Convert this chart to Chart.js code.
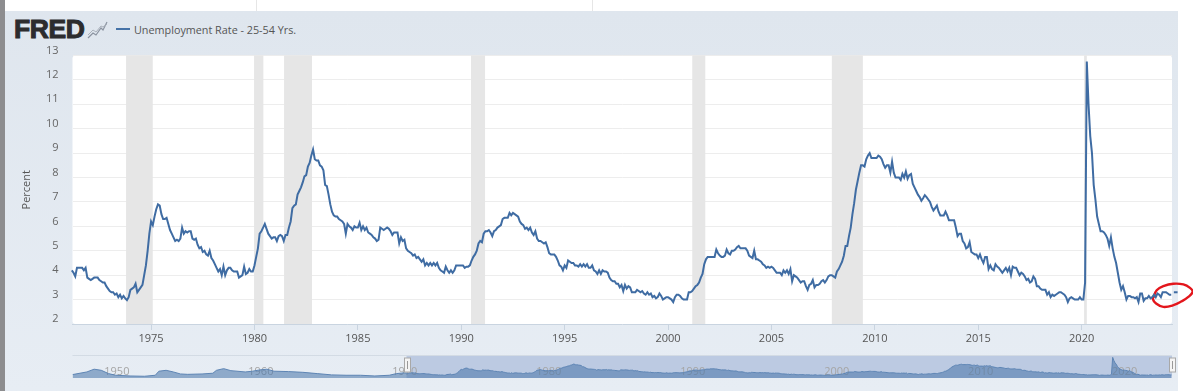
<!DOCTYPE html>
<html>
<head>
<meta charset="utf-8">
<title>Unemployment Rate - 25-54 Yrs.</title>
<script src="https://cdn.jsdelivr.net/npm/chart.js@4"></script>
<style>
    html, body { margin: 0; padding: 0; background: #fff; overflow: hidden; }
    #page { position: relative; width: 1193px; height: 391px; font-family: "Open Sans", sans-serif; }
    #edge { position: absolute; left: 0; top: 0; width: 5px; height: 391px; background: #8d8d8f; }
    #panel { position: absolute; left: 5px; top: 11px; width: 1173px; height: 380px; background: linear-gradient(#dfe6ee, #e7edf4); }
    .rule { position: absolute; top: 0; width: 1px; height: 11px; background: #e6e6e6; }
    #logo { position: absolute; left: 14px; top: 14px; font: bold 26.5px/30px "Liberation Sans", sans-serif; color: #2c2c2e; -webkit-text-stroke: 1px #2c2c2e; letter-spacing: -0.4px; }
    #icon { position: absolute; left: 87px; top: 20px; }
    #swatch { position: absolute; left: 116px; top: 28px; width: 14px; height: 2px; background: #4572a7; }
    #legend { position: absolute; left: 134px; top: 21px; font-size: 10.8px; line-height: 18px; color: #555; }
    canvas { position: absolute; left: 0; }
</style>
</head>
<body>
<div id="page">
    <div class="rule" style="left:256px"></div>
    <div class="rule" style="left:592px"></div>
    <div id="edge"></div>
    <div id="panel"></div>
    <div id="logo">FRED</div>
    <svg id="icon" width="21" height="20" viewBox="0 0 21 20">
        <path d="M1 18 L6 13 L9 15 L14 8 L16 10 L20 2" fill="none" stroke="#8b93a0" stroke-width="1.2"/>
        <path d="M1 15 L6 10 L9 12 L14 6 L16 7 L20 4" fill="none" stroke="#a9b0ba" stroke-width="1"/>
    </svg>
    <div id="swatch"></div>
    <div id="legend">Unemployment Rate - 25-54 Yrs.</div>
    <canvas id="main-chart" width="1193" height="391" style="top:0"></canvas>
    <canvas id="nav-chart" width="1193" height="46" style="top:345px"></canvas>
</div>
<script>
// monthly percent, starts March 1971
const firstYear = 1971;
const firstMonth = 2;
const rates = [
    4.2,4.1,3.95,4.3,4.3,4.3,4.3,4.2,4.3,3.9,
    3.85,3.8,3.85,3.9,3.9,3.9,3.8,3.75,3.7,3.7,3.55,3.45,
    3.35,3.3,3.3,3.2,3.25,3.1,3.2,3.05,3.15,3.05,2.98,3.1,
    3.4,3.45,3.5,3.65,3.3,3.4,3.5,3.6,4.0,4.4,5.0,5.7,
    6.2,6.05,6.4,6.7,6.9,6.85,6.5,6.3,6.3,6.35,6.1,5.85,
    5.7,5.55,5.4,5.45,5.4,5.5,5.95,5.7,5.8,5.75,5.8,5.8,
    5.5,5.45,5.5,5.25,5.1,5.15,4.95,5.0,4.85,4.8,5.0,4.7,
    4.6,4.45,4.3,4.15,4.25,4.0,4.35,4.0,4.2,4.3,4.3,4.2,
    4.15,4.15,4.15,3.9,3.95,4.0,4.35,4.05,4.1,4.25,4.15,4.15,
    4.4,4.75,5.1,5.7,5.8,5.95,6.1,5.9,5.7,5.6,5.5,5.55,
    5.55,5.4,5.6,5.65,5.6,5.4,5.65,5.65,5.95,6.2,6.75,6.85,
    6.9,7.3,7.45,7.6,7.8,8.05,8.1,8.45,8.6,8.9,9.15,8.75,
    8.7,8.7,8.5,8.45,8.3,7.7,7.65,7.3,6.9,6.6,6.45,6.4,
    6.4,6.3,6.25,6.2,6.1,5.7,6.1,6.0,5.95,5.85,6.0,5.95,
    5.95,6.15,5.85,6.0,5.85,5.95,5.75,5.7,5.65,5.55,5.5,5.4,
    5.45,5.95,5.9,5.85,5.9,5.95,5.9,5.8,5.65,5.75,5.75,5.75,
    5.3,5.55,5.4,5.45,5.1,5.0,4.95,4.9,4.8,4.85,4.7,4.75,
    4.65,4.55,4.65,4.4,4.5,4.4,4.5,4.4,4.5,4.4,4.5,4.3,
    4.2,4.15,4.1,4.35,4.2,4.1,4.2,4.1,4.2,4.4,4.4,4.4,
    4.4,4.4,4.3,4.35,4.35,4.4,4.6,4.75,4.85,5.0,5.3,5.4,
    5.35,5.7,5.8,5.8,5.85,5.75,5.6,5.8,5.85,5.95,6.0,6.05,
    6.3,6.35,6.35,6.35,6.55,6.45,6.55,6.5,6.45,6.4,6.2,6.1,
    6.05,5.9,5.95,5.85,5.95,5.75,5.65,5.8,5.5,5.4,5.4,5.35,
    5.3,5.35,5.15,4.9,4.85,4.85,4.85,4.75,4.6,4.4,4.35,4.2,
    4.4,4.3,4.6,4.55,4.5,4.5,4.4,4.4,4.35,4.45,4.35,4.45,
    4.35,4.45,4.3,4.3,4.4,4.2,4.15,4.05,4.2,4.05,4.2,4.15,
    4.15,4.1,3.9,3.8,3.75,3.75,3.65,3.65,3.5,3.6,3.35,3.6,
    3.45,3.55,3.5,3.3,3.3,3.3,3.4,3.35,3.3,3.35,3.25,3.2,
    3.3,3.2,3.25,3.1,3.15,3.05,3.1,3.25,3.15,3.0,3.05,3.1,
    3.1,3.05,3.0,2.9,3.1,3.2,3.2,3.15,3.05,3.0,3.0,3.0,
    3.3,3.3,3.35,3.45,3.55,3.6,3.7,3.9,4.05,4.45,4.65,4.75,
    4.75,4.75,4.75,4.75,5.05,4.9,4.8,4.75,4.75,4.8,5.05,4.9,
    4.85,5.0,5.0,5.05,5.15,5.2,5.1,5.1,5.1,5.1,5.0,4.8,
    4.75,4.7,5.0,4.65,4.65,4.6,4.55,4.45,4.4,4.3,4.35,4.3,
    4.35,4.3,4.2,4.1,4.1,4.1,4.0,4.2,4.1,4.2,4.05,4.25,
    3.75,4.0,3.95,3.9,3.8,3.7,3.75,3.75,3.55,3.4,3.6,3.65,
    3.8,3.5,3.6,3.6,3.65,3.75,3.8,3.7,3.8,3.95,4.0,4.0,
    3.95,3.9,4.15,4.25,4.4,4.55,4.8,5.2,5.2,5.6,5.95,6.5,
    6.95,7.5,7.85,8.2,8.5,8.5,8.45,8.75,8.9,9.0,8.8,8.8,
    8.8,8.8,8.9,8.85,8.75,8.55,8.4,8.5,8.5,8.2,8.65,8.2,
    8.0,8.0,8.0,7.9,8.15,8.0,8.25,7.95,8.1,8.15,7.75,7.6,
    7.45,7.3,7.2,7.05,7.15,7.28,7.2,7.1,7.0,6.8,6.65,6.75,
    6.85,6.6,6.45,6.45,6.45,6.6,6.45,6.25,6.25,6.25,6.25,5.95,
    5.6,5.7,5.7,5.4,5.3,5.1,5.15,5.35,4.95,4.9,4.85,4.85,
    4.7,4.85,4.65,4.5,4.75,4.75,4.25,4.4,4.25,4.2,4.45,4.35,
    4.3,4.2,4.1,4.2,4.3,4.15,4.3,4.0,4.35,4.3,4.3,4.15,
    4.0,4.1,4.05,3.95,3.8,3.85,3.7,3.75,3.95,3.85,3.55,3.55,
    3.45,3.4,3.4,3.4,3.2,3.3,3.1,3.2,3.15,3.2,3.25,3.3,
    3.3,3.25,3.2,3.1,2.9,3.05,3.1,3.05,3.0,3.0,3.0,3.1,
    3.0,3.0,3.7,12.75,11.0,9.7,9.0,7.7,7.1,6.4,6.1,5.8,
    5.8,5.75,5.65,5.5,5.2,5.55,5.1,4.75,4.5,4.1,3.7,3.4,
    3.55,3.3,3.0,3.15,3.15,3.1,3.1,3.05,3.1,2.9,3.25,3.25,
    2.95,3.05,3.05,3.15,3.05,3.1,3.2,3.1,3.25,3.2,3.1,3.3,
    3.3,3.3,3.25,3.2,3.2
];
// the little dash past the last full month, newest first
const tailYears = [2024.64, 2024.46];
const tailRates = [3.3, 3.3];

// navigator history before the main series
const earlyYears = [1948,1949,1949.5,1950,1950.5,1951,1952,1953,1953.75,1954,1954.5,1955,1955.5,1956,1957,1957.75,1958,1958.5,1959,1960,1960.5,1961,1961.5,1962,1963,1964,1965,1966,1967,1968,1969,1970,1970.5,1971];
const earlyRates = [3.36,4.8,6.3,5.7,3.9,3.0,2.6,2.45,3.0,5.2,5.7,4.8,3.7,3.5,3.7,4.1,5.7,6.6,5.5,4.8,5.2,5.9,6.3,5.2,5.0,4.6,3.9,3.2,3.0,3.0,2.6,3.0,3.9,4.3];

const recessions = [
    [1973.79, 1975.08], [1979.98, 1980.43], [1981.43, 1982.78], [1990.47, 1991.15],
    [2001.17, 2001.8], [2007.92, 2009.42], [2020.12, 2020.25]
];
const tickYears = [1975, 1980, 1985, 1990, 1995, 2000, 2005, 2010, 2015, 2020];
const navTickYears = [1950, 1960, 1970, 1980, 1990, 2000, 2010, 2020];

// hand drawn red ring around the last months
const ringYears = [2023.47,2023.63,2023.95,2024.44,2024.92,2025.24,2025.37,2025.16,2024.84,2024.44,2023.95,2023.6,2023.44,2023.5];
const ringRates = [3.07,3.38,3.55,3.65,3.62,3.48,3.32,3.11,2.93,2.77,2.70,2.84,3.03,3.15];

const viewStart = 1971.2;
const viewEnd = 2024.37;

const years = rates.map((_, i) => firstYear + (firstMonth + i) / 12);
const toPoints = (xs, ys) => xs.map((x, i) => ({ x: x, y: ys[i] }));

const font = '"Open Sans", sans-serif';

const panelPlugin = {
    id: 'panel',
    beforeDraw(chart) {
        const a = chart.chartArea;
        const ctx = chart.ctx;
        ctx.save();
        ctx.fillStyle = '#fff';
        ctx.beginPath();
        ctx.roundRect(a.left, a.top, a.width, a.height, 3);
        ctx.fill();
        ctx.restore();
    },
    beforeDatasetsDraw(chart) {
        const a = chart.chartArea;
        const x = chart.scales.x;
        const ctx = chart.ctx;
        ctx.save();
        ctx.fillStyle = '#e6e6e6';
        recessions.forEach(r => {
            const l = x.getPixelForValue(r[0]);
            ctx.fillRect(l, a.top, x.getPixelForValue(r[1]) - l, a.height);
        });
        ctx.restore();
    }
};

new Chart(document.getElementById('main-chart'), {
    type: 'line',
    data: {
        datasets: [
            { label: 'Unemployment Rate - 25-54 Yrs.', data: toPoints(years, rates), borderColor: '#3f6ca3', borderWidth: 2, pointRadius: 0, tension: 0, clip: false },
            { label: 'tail', data: toPoints(tailYears, tailRates), borderColor: '#3f6ca3', borderWidth: 2, pointRadius: 0, clip: false },
            { label: 'ring', data: toPoints(ringYears, ringRates), borderColor: '#e3161c', borderWidth: 2.4, pointRadius: 0, tension: 0.4, clip: false }
        ]
    },
    options: {
        responsive: false,
        animation: false,
        layout: { padding: { left: 20, right: 21, top: 55.5, bottom: 0 } },
        plugins: { legend: { display: false }, tooltip: { enabled: false } },
        scales: {
            x: {
                type: 'linear',
                min: viewStart,
                max: viewEnd,
                afterBuildTicks(scale) { scale.ticks = tickYears.map(v => ({ value: v })); },
                afterFit(scale) { scale.height = 67; },
                grid: { drawOnChartArea: false, drawTicks: true, tickLength: 6, color: '#c9d4e0' },
                border: { color: '#c9d4e0', width: 1 },
                ticks: { color: '#555', padding: 2, maxRotation: 0, autoSkip: false, font: { family: font, size: 11 }, callback: v => String(v) }
            },
            y: {
                min: 2,
                max: 13,
                afterFit(scale) { scale.width = 52.5; },
                grid: { color: '#ededed', lineWidth: 1, drawTicks: false },
                border: { display: false },
                title: { display: true, text: 'Percent', color: '#555', padding: { top: 0, bottom: 0 }, font: { family: font, size: 11 } },
                ticks: { stepSize: 1, color: '#666', padding: 14, labelOffset: -5, font: { family: font, size: 11 } }
            }
        }
    },
    plugins: [panelPlugin]
});

const navPlugin = {
    id: 'nav',
    beforeDatasetsDraw(chart) {
        const a = chart.chartArea;
        const x = chart.scales.x;
        const ctx = chart.ctx;
        ctx.save();
        ctx.fillStyle = '#d3dbe4';
        ctx.fillRect(a.left, a.top - 1, a.width, 1);
        const l = x.getPixelForValue(viewStart);
        const r = x.getPixelForValue(viewEnd);
        ctx.fillStyle = '#bccae2';
        ctx.fillRect(l, a.top, r - l, a.height);
        ctx.fillStyle = '#a5a5a5';
        ctx.font = '11px ' + font;
        ctx.textBaseline = 'middle';
        navTickYears.forEach(v => ctx.fillText(String(v), x.getPixelForValue(v) + 3, a.top + 16));
        ctx.restore();
    },
    afterDatasetsDraw(chart) {
        const a = chart.chartArea;
        const x = chart.scales.x;
        const ctx = chart.ctx;
        ctx.save();
        [viewStart, viewEnd].forEach(v => {
            const px = Math.round(x.getPixelForValue(v)) + 0.5 - 3;
            ctx.fillStyle = '#f4f4f4';
            ctx.strokeStyle = '#a8a8a8';
            ctx.fillRect(px, a.top + 2, 6, 14);
            ctx.strokeRect(px, a.top + 2, 6, 14);
            ctx.fillStyle = '#999';
            ctx.fillRect(px + 2.5, a.top + 5, 1, 8);
        });
        ctx.restore();
    }
};

new Chart(document.getElementById('nav-chart'), {
    type: 'line',
    data: {
        datasets: [{
            data: toPoints(earlyYears, earlyRates).concat(toPoints(years, rates)),
            borderColor: '#5e85b4',
            borderWidth: 1,
            backgroundColor: 'rgba(69,114,167,0.55)',
            fill: 'start',
            pointRadius: 0
        }]
    },
    options: {
        responsive: false,
        animation: false,
        layout: { padding: { left: 72.5, right: 21, top: 11, bottom: 13 } },
        plugins: { legend: { display: false }, tooltip: { enabled: false } },
        scales: {
            x: { type: 'linear', display: false, min: 1948, max: viewEnd },
            y: { display: false, min: 1.5, max: 13.5 }
        }
    },
    plugins: [navPlugin]
});
</script>
</body>
</html>
